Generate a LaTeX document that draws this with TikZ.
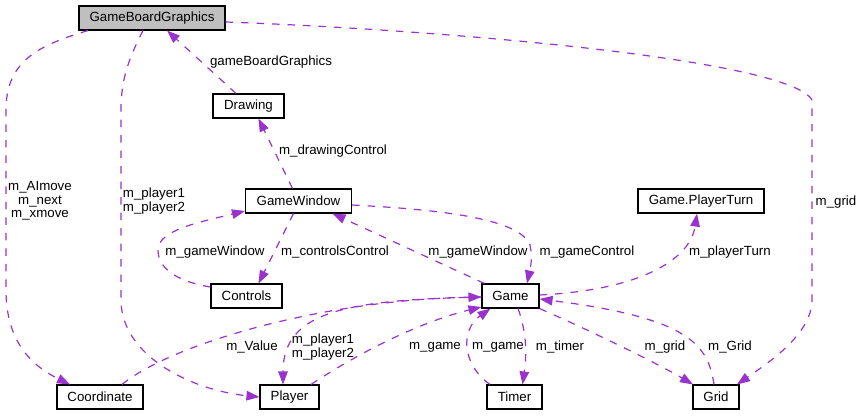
\documentclass[tikz,border=0pt]{standalone}
\usepackage{fontspec}
\setmainfont{Liberation Sans}
\usetikzlibrary{arrows.meta}
\definecolor{edgecol}{RGB}{154,50,205}
\definecolor{boxgray}{RGB}{191,191,191}
\begin{document}
\begin{tikzpicture}[x=1pt,y=-1pt,
  every node/.style={font=\fontsize{13.3}{13.5}\selectfont},
  cls/.style={draw=black, line width=1.1pt, fill=white, minimum height=24pt, inner sep=0pt, anchor=center},
  dep/.style={draw=edgecol, line width=1.2pt, dash pattern=on 7.5pt off 8pt, -{Triangle[length=13pt,width=9.5pt]}},
  lbl/.style={align=center, inner sep=0pt}]
\useasboundingbox (0,0) rectangle (862,416);

% classes
\node[cls, fill=boxgray, minimum width=146pt] (gbg) at (152,18) {GameBoardGraphics};
\node[cls, minimum width=71pt] (drw) at (248.5,106) {Drawing};
\node[cls, minimum width=106pt] (gw) at (298.5,201) {GameWindow};
\node[cls, minimum width=126pt] (gpt) at (701,201) {Game.PlayerTurn};
\node[cls, minimum width=71pt] (ctl) at (246.5,296) {Controls};
\node[cls, minimum width=57pt] (game) at (510.5,296) {Game};
\node[cls, minimum width=86pt] (coord) at (100,397) {Coordinate};
\node[cls, minimum width=59pt] (player) at (289.5,397) {Player};
\node[cls, minimum width=55pt] (timer) at (514.5,397) {Timer};
\node[cls, minimum width=46pt] (grid) at (716,397) {Grid};

% connectors
\draw[dep] ([xshift=-12.5pt]drw.north) -- ([xshift=15pt]gbg.south);
\draw[dep] ([xshift=-6pt]gw.north) -- ([xshift=10pt]drw.south);
\draw[dep] ([xshift=-64pt]gbg.south) .. controls (40,45) and (6,60) .. (6,110) -- (6,290) .. controls (6,340) and (30,365) .. ([xshift=-30pt]coord.north);
\draw[dep] ([xshift=-9pt]gbg.south) .. controls (128,60) and (121,80) .. (121,110) -- (121,300) .. controls (121,355) and (190,390) .. (player.west);
\draw[dep] ([yshift=-4pt]gbg.east) .. controls (450,30) and (790,60) .. (812,100) -- (812,300) .. controls (812,335) and (765,365) .. ([xshift=21pt]grid.north);
\draw[dep] ([yshift=9pt]ctl.west) .. controls (180,282) and (158,270) .. (158,250) .. controls (158,230) and (200,222) .. ([yshift=-10pt]gw.west);
\draw[dep] ([xshift=-5pt]gw.south) -- ([xshift=12pt]ctl.north);
\draw[dep] ([xshift=-26pt]game.north) -- ([xshift=34pt]gw.south);
\draw[dep] ([yshift=-4pt]gw.east) .. controls (450,210) and (520,220) .. (530,245) .. controls (533,258) and (530,270) .. ([xshift=16.5pt]game.north);
\draw[dep] ([yshift=1pt]game.east) .. controls (640,290) and (690,260) .. ([xshift=-4pt]gpt.south);
\draw[dep] ([xshift=22pt]coord.north) .. controls (170,345) and (320,300) .. ([yshift=-1pt]game.west);
\draw[dep] ([yshift=-1pt]game.west) .. controls (350,300) and (283,310) .. ([xshift=-6.5pt]player.north);
\draw[dep] ([xshift=21.5pt]player.north) .. controls (360,352) and (420,322) .. ([yshift=-11pt]game.west);
\draw[dep] ([xshift=-24.5pt]timer.north) .. controls (462,365) and (460,330) .. ([xshift=-20pt]game.south);
\draw[dep] ([xshift=7.5pt]game.south) .. controls (528,335) and (526,360) .. ([xshift=8pt]timer.north);
\draw[dep] (game.south east) .. controls (600,335) and (660,365) .. ([xshift=-23pt]grid.north);
\draw[dep] ([xshift=-2pt]grid.north) .. controls (708,345) and (690,318) .. ([yshift=-3pt]game.east);

% labels
\node[lbl] (l1) at (271,62) {gameBoardGraphics};
\node[lbl] (l2) at (333,151) {m\_drawingControl};
\node[lbl] (l3) at (40,201) {m\_AImove\\m\_next\\m\_xmove};
\node[lbl] (l4) at (154,201) {m\_player1\\m\_player2};
\node[lbl] (l5) at (836,202) {m\_grid};
\node[lbl] (l6) at (215,252) {m\_gameWindow};
\node[lbl] (l7) at (335,252) {m\_controlsControl};
\node[lbl] (l8) at (478,252) {m\_gameWindow};
\node[lbl] (l9) at (587,252) {m\_gameControl};
\node[lbl] (l10) at (730,252) {m\_playerTurn};
\node[lbl] (l11) at (252,347) {m\_Value};
\node[lbl] (l12) at (323,347) {m\_player1\\m\_player2};
\node[lbl] (l13) at (435,347) {m\_game};
\node[lbl] (l14) at (498,347) {m\_game};
\node[lbl] (l15) at (560,347) {m\_timer};
\node[lbl] (l16) at (665,347) {m\_grid};
\node[lbl] (l17) at (730,347) {m\_Grid};
\end{tikzpicture}
\end{document}
